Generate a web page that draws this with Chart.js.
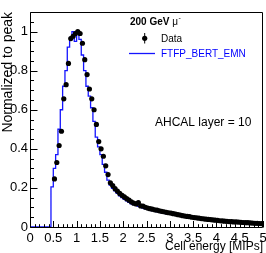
<!DOCTYPE html>
<html><head><meta charset="utf-8">
<script src="https://cdn.jsdelivr.net/npm/chart.js@4.4.0/dist/chart.umd.min.js"></script>
<style>html,body{margin:0;padding:0;background:#fff;}#wrap{width:266px;height:253px;}</style>
</head><body><div id="wrap"><canvas id="c" width="266" height="253"></canvas></div>
<script>
// ---- data ----
const binWidth = 0.05;
const dataFirstCenter = 0.525;
const dataValues = [
 0.246,0.330,0.417,0.490,0.656,0.728,0.837,0.964,0.976,0.990,
 1.000,0.990,0.940,0.856,0.780,0.706,0.656,0.600,0.525,0.437,
 0.400,0.362,0.313,0.268,0.226,0.212,0.196,0.184,0.172,0.162,
 0.154,0.145,0.137,0.129,0.122,0.118,0.125,0.108,0.107,0.101,
 0.097,0.094,0.091,0.088,0.086,0.083,0.080,0.078,0.075,0.073,
 0.071,0.068,0.066,0.063,0.061,0.058,0.056,0.054,0.053,0.050,
 0.048,0.047,0.045,0.043,0.042,0.040,0.039,0.038,0.036,0.035,
 0.034,0.032,0.031,0.030,0.029,0.028,0.027,0.026,0.026,0.025,
 0.024,0.023,0.022,0.022,0.021,0.020,0.019,0.019,0.018,0.017
];
const mcFirstEdge = 0.0;
const mcValues = [
 0,0,0,0,0,0,0,0,0,0,
 0.205,0.300,0.370,0.500,0.600,0.720,0.800,0.920,0.970,1.000,
 0.950,1.000,0.960,0.880,0.800,0.720,0.670,0.610,0.540,0.460,
 0.410,0.370,0.320,0.280,0.240,0.215,0.198,0.185,0.172,0.160,
 0.150,0.142,0.134,0.126,0.119,0.114,0.118,0.106,0.102,0.097,
 0.093,0.090,0.087,0.084,0.082,0.079,0.076,0.074,0.071,0.069,
 0.067,0.065,0.062,0.060,0.058,0.055,0.053,0.051,0.050,0.048,
 0.046,0.045,0.043,0.041,0.040,0.038,0.037,0.036,0.034,0.033,
 0.032,0.030,0.029,0.028,0.027,0.026,0.025,0.025,0.024,0.023,
 0.022,0.021,0.021,0.020,0.019,0.018,0.018,0.017,0.016,0.016
];
const xTickValues = [0,0.5,1,1.5,2,2.5,3,3.5,4,4.5,5];
const yTickValues = [0,0.2,0.4,0.6,0.8,1];
const xTitle = 'Cell energy [MIPs]';
const yTitle = 'Normalized to peak';
const legendData = 'Data';
const legendMC = 'FTFP_BERT_EMN';
const headerText = '200 GeV ';
const layerText = 'AHCAL layer = 10';

// ---- build points ----
const dataPoints = dataValues.map((v,i)=>({x: dataFirstCenter + i*binWidth, y: v}));
const mcPoints = mcValues.map((v,i)=>({x: mcFirstEdge + i*binWidth, y: v}));
mcPoints.push({x: mcFirstEdge + mcValues.length*binWidth, y: mcValues[mcValues.length-1]});

const FONT = "'Liberation Sans', Arial, Helvetica, sans-serif";
Chart.defaults.font.family = FONT;
Chart.defaults.color = '#000';
const MCCOL = 'rgb(20,20,255)';

const rootStyle = {
  id: 'rootStyle',
  afterDatasetsDraw(chart){
    const {ctx, chartArea:a, scales:{x, y}} = chart;
    ctx.save();
    ctx.strokeStyle = '#000'; ctx.lineWidth = 1;
    const L = Math.round(a.left)+0.5, R = Math.round(a.right)-0.5;
    const T = Math.round(a.top)+0.5, B = Math.round(a.bottom)+0.5;
    ctx.beginPath();
    ctx.moveTo(L,T); ctx.lineTo(R,T); ctx.lineTo(R,B); ctx.lineTo(L,B); ctx.closePath();
    ctx.stroke();
    ctx.beginPath();
    // x ticks
    for (let k=0;k<=50;k++){
      const v = k*0.1;
      const px = Math.round(x.getPixelForValue(v))+0.5;
      const len = (k%5===0)?6.5:3.3;
      ctx.moveTo(px,B); ctx.lineTo(px,B-len);
    }
    // y ticks
    for (let k=0;k<=22;k++){
      const v = k*0.05;
      if (v>1.1001) break;
      const py = Math.round(y.getPixelForValue(v))+0.5;
      const len = (k%4===0)?7:3.5;
      ctx.moveTo(L,py); ctx.lineTo(L+len,py);
    }
    ctx.stroke();
    ctx.restore();
  },
  afterDraw(chart){
    const {ctx, chartArea:a} = chart;
    ctx.save();
    ctx.fillStyle = '#000';
    // y title
    ctx.save();
    ctx.translate(12, a.top);
    ctx.rotate(-Math.PI/2);
    ctx.font = '14px ' + FONT;
    ctx.textAlign = 'right'; ctx.textBaseline = 'alphabetic';
    ctx.fillText(yTitle, 0, 0);
    ctx.restore();
    // x title
    ctx.font = '12px ' + FONT;
    ctx.textAlign = 'right'; ctx.textBaseline = 'alphabetic';
    ctx.fillText(xTitle, a.right, 250);
    // header
    ctx.textAlign = 'left';
    ctx.font = 'bold 10px ' + FONT;
    ctx.fillText(headerText, 130, 25);
    const w = ctx.measureText(headerText).width;
    ctx.font = '10px ' + FONT;
    ctx.fillText('\u03bc', 130 + w, 25);
    const wm = ctx.measureText('\u03bc').width;
    ctx.font = '7px ' + FONT;
    ctx.fillText('-', 130 + w + wm + 0.5, 20);
    // legend
    ctx.font = '10px ' + FONT;
    ctx.fillText(legendData, 161, 42);
    ctx.beginPath(); ctx.arc(144.7, 38.3, 2.6, 0, Math.PI*2); ctx.fill();
    ctx.strokeStyle = '#000'; ctx.lineWidth = 1;
    ctx.beginPath(); ctx.moveTo(144.7, 33); ctx.lineTo(144.7, 43.5); ctx.stroke();
    ctx.strokeStyle = MCCOL; ctx.lineWidth = 1.3;
    ctx.beginPath(); ctx.moveTo(129, 53.5); ctx.lineTo(155, 53.5); ctx.stroke();
    ctx.fillStyle = '#0000ff';
    ctx.fillText(legendMC, 161, 57);
    // layer text
    ctx.fillStyle = '#000';
    ctx.font = '12px ' + FONT;
    ctx.fillText(layerText, 155, 126);
    ctx.restore();
  }
};

new Chart(document.getElementById('c'), {
  type: 'scatter',
  data: {
    datasets: [
      { label: legendData, data: dataPoints, pointRadius: 2.6, pointHoverRadius: 2.6,
        backgroundColor: '#000', borderColor: '#000', borderWidth: 0, showLine: false },
      { type: 'line', label: legendMC, data: mcPoints, stepped: 'after', pointRadius: 0,
        borderColor: MCCOL, borderWidth: 1.3, fill: false, tension: 0 }
    ]
  },
  options: {
    responsive: false, animation: false, devicePixelRatio: 1,
    layout: { padding: { top: 12, right: 3, left: 0, bottom: 0 } },
    plugins: { legend: { display: false }, tooltip: { enabled: false } },
    scales: {
      x: {
        type: 'linear', min: 0, max: 5,
        grid: { display: false, drawTicks: false }, border: { display: false },
        afterBuildTicks: s => { s.ticks = xTickValues.map(v => ({value: v})); },
        afterFit: s => { s.height = 26; s.paddingLeft = 0; s.paddingRight = 0; },
        ticks: { padding: 4, maxRotation: 0, autoSkip: false, font: { size: 13 }, color: '#000',
          callback: v => String(+(+v).toFixed(2)) }
      },
      y: {
        type: 'linear', min: 0, max: 1.1,
        grid: { display: false, drawTicks: false }, border: { display: false },
        afterBuildTicks: s => { s.ticks = yTickValues.map(v => ({value: v})); },
        afterFit: s => { s.width = 30; s.paddingTop = 0; s.paddingBottom = 0; },
        ticks: { padding: 2, autoSkip: false, font: { size: 13 }, color: '#000',
          callback: v => String(+(+v).toFixed(2)) }
      }
    }
  },
  plugins: [rootStyle]
});
</script></body></html>
